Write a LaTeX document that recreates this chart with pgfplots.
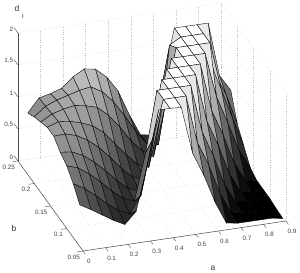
\documentclass[border=0pt]{standalone}
\usepackage{fontspec}
\setmainfont{Liberation Sans}
\usepackage{pgfplots}
\pgfplotsset{compat=1.18}
\begin{document}
\begin{tikzpicture}[x=1bp,y=1bp]
\begin{axis}[
  x={(225.6bp,33.3bp)}, y={(-325bp,450bp)}, z={(0bp,64bp)},
  xmin=0,xmax=0.9,ymin=0.05,ymax=0.25,zmin=0,zmax=2,
  clip=false,
  xtick={0,0.1,0.2,0.3,0.4,0.5,0.6,0.7,0.8,0.9},
  ytick={0.05,0.1,0.15,0.2,0.25},
  ztick={0,0.5,1,1.5,2},
  xticklabels={0,0.1,0.2,0.3,0.4,0.5,0.6,0.7,0.8,0.9},
  yticklabels={0.05,0.1,0.15,0.2,0.25},
  zticklabels={0,0.5,1,1.5,2},
  xtick pos=left, ytick pos=left, ztick pos=left,
  grid=major,
  grid style={dotted,line width=0.4pt,black!25},
  axis line style={draw=none},
  tick style={draw=none},
  tick align=outside,
  major tick length=3bp,
  tick label style={font=\fontsize{6.3}{7}\selectfont,text=black!75,inner sep=1pt},
  xticklabel style={xshift=3bp,yshift=-4bp},
  yticklabel style={xshift=-1bp},
  zticklabel style={xshift=-2bp},
  /pgf/number format/assume math mode=true,
  colormap/blackwhite,
  point meta min=0, point meta max=1.95,
]
\addplot3[surf,shader=faceted,faceted color=black,line width=0.35pt,z buffer=sort,mesh/rows=9,mesh/cols=19] coordinates {
(0,.06,.65) (.05,.06,.55) (.1,.06,.44) (.15,.06,.33) (.2,.06,.24) (.25,.06,.42) (.3,.06,1.12) (.35,.06,1.95) (.4,.06,1.95) (.45,.06,1.94) (.5,.06,1.2) (.55,.06,.83) (.6,.06,.38) (.65,.06,.03) (.7,.06,0) (.75,.06,0) (.8,.06,0) (.85,.06,0) (.9,.06,-.03)

(0,.08,.84) (.05,.08,.74) (.1,.08,.60) (.15,.08,.45) (.2,.08,.32) (.25,.08,.24) (.3,.08,.50) (.35,.08,1.34) (.4,.08,1.95) (.45,.08,1.95) (.5,.08,1.95) (.55,.08,1.2) (.6,.08,.83) (.65,.08,.36) (.7,.08,.02) (.75,.08,0) (.8,.08,0) (.85,.08,0) (.9,.08,-.02)

(0,.10,.98) (.05,.10,.92) (.1,.10,.80) (.15,.10,.65) (.2,.10,.48) (.25,.10,.34) (.3,.10,.27) (.35,.10,1.0) (.4,.10,1.95) (.45,.10,1.95) (.5,.10,1.95) (.55,.10,1.95) (.6,.10,1.2) (.65,.10,.80) (.7,.10,.33) (.75,.10,.02) (.8,.10,0) (.85,.10,0) (.9,.10,0)

(0,.12,1.05) (.05,.12,1.03) (.1,.12,.95) (.15,.12,.82) (.2,.12,.66) (.25,.12,.48) (.3,.12,.33) (.35,.12,.26) (.4,.12,1.05) (.45,.12,1.95) (.5,.12,1.95) (.55,.12,1.95) (.6,.12,1.95) (.65,.12,1.2) (.7,.12,.80) (.75,.12,.33) (.8,.12,.02) (.85,.12,0) (.9,.12,0)

(0,.14,1.16) (.05,.14,1.17) (.1,.14,1.12) (.15,.14,1.02) (.2,.14,.88) (.25,.14,.70) (.3,.14,.50) (.35,.14,.34) (.4,.14,.28) (.45,.14,1.05) (.5,.14,1.95) (.55,.14,1.95) (.6,.14,1.95) (.65,.14,1.95) (.7,.14,1.2) (.75,.14,.80) (.8,.14,.33) (.85,.14,.03) (.9,.14,0)

(0,.16,1.16) (.05,.16,1.22) (.1,.16,1.20) (.15,.16,1.15) (.2,.16,1.08) (.25,.16,.95) (.3,.16,.75) (.35,.16,.55) (.4,.16,.37) (.45,.16,.30) (.5,.16,1.05) (.55,.16,1.95) (.6,.16,1.95) (.65,.16,1.95) (.7,.16,1.95) (.75,.16,1.25) (.8,.16,.82) (.85,.16,.36) (.9,.16,.06)

(0,.18,1.10) (.05,.18,1.20) (.1,.18,1.25) (.15,.18,1.28) (.2,.18,1.25) (.25,.18,1.20) (.3,.18,1.05) (.35,.18,.85) (.4,.18,.60) (.45,.18,.42) (.5,.18,.30) (.55,.18,1.05) (.6,.18,1.95) (.65,.18,1.95) (.7,.18,1.95) (.75,.18,1.95) (.8,.18,1.2) (.85,.18,.72) (.9,.18,.26)

(0,.20,1.04) (.05,.20,1.18) (.1,.20,1.25) (.15,.20,1.30) (.2,.20,1.35) (.25,.20,1.38) (.3,.20,1.28) (.35,.20,1.10) (.4,.20,.85) (.45,.20,.58) (.5,.20,.36) (.55,.20,.32) (.6,.20,1.85) (.65,.20,1.95) (.7,.20,1.95) (.75,.20,1.95) (.8,.20,1.3) (.85,.20,.95) (.9,.20,.46)

(0,.22,.96) (.05,.22,1.17) (.1,.22,1.21) (.15,.22,1.27) (.2,.22,1.42) (.25,.22,1.52) (.3,.22,1.49) (.35,.22,1.34) (.4,.22,1.10) (.45,.22,.70) (.5,.22,.36) (.55,.22,.33) (.6,.22,1.17) (.65,.22,1.95) (.7,.22,1.95) (.75,.22,1.95) (.8,.22,1.95) (.85,.22,1.1) (.9,.22,.85)
};
\draw[black!70,line width=0.5pt] (axis cs:0,0.05,0) -- (axis cs:0.9,0.05,0);
\draw[black!70,line width=0.5pt] (axis cs:0,0.05,0) -- (axis cs:0,0.25,0);
\draw[black!70,line width=0.5pt] (axis cs:0,0.25,0) -- (axis cs:0,0.25,2);
\pgfplotsinvokeforeach{0,0.1,0.2,0.3,0.4,0.5,0.6,0.7,0.8,0.9}{
  \draw[black!70,line width=0.4pt] (axis cs:#1,0.05,0) -- (axis cs:#1,0.0425,0);
}
\pgfplotsinvokeforeach{0.05,0.1,0.15,0.2,0.25}{
  \draw[black!70,line width=0.4pt] (axis cs:0,#1,0) -- (axis cs:-0.025,#1,0);
}
\pgfplotsinvokeforeach{0,0.5,1,1.5,2}{
  \draw[black!70,line width=0.4pt] (axis cs:0,0.25,#1) -- (axis cs:0,0.262,#1);
}
\coordinate (P) at (axis cs:0,0.05,0);
\end{axis}
\pgfresetboundingbox
\path[use as bounding box,shift={(P)}] (-83bp,-22bp) rectangle (217bp,251bp);
\begin{scope}[shift={(P)}]
\node[font=\fontsize{8.5}{9}\selectfont,text=black!80] at (-66bp,243bp) {d};
\node[font=\fontsize{6}{7}\selectfont,text=black!80] at (-60bp,235bp) {I};
\node[font=\fontsize{8.5}{9}\selectfont,text=black!80] at (-69bp,23bp) {b};
\node[font=\fontsize{8.5}{9}\selectfont,text=black!80] at (130bp,-17bp) {a};
\end{scope}
\end{tikzpicture}
\end{document}
